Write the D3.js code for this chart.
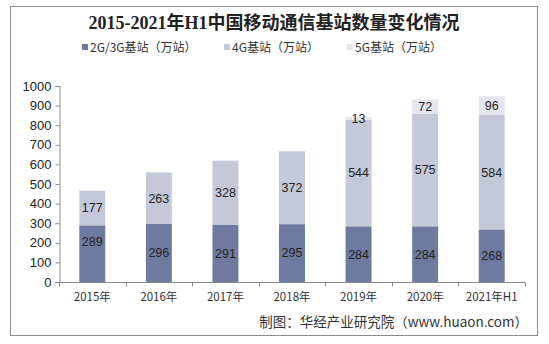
<!DOCTYPE html>
<html>
<head>
<meta charset="utf-8">
<script src="https://cdn.jsdelivr.net/npm/d3@7"></script>
<style>
  html, body { margin: 0; padding: 0; background: #fff; }
  svg { display: block; }
</style>
</head>
<body>
<svg id="chart" width="549" height="344"></svg>
<script>
// Base station counts (10k stations), by year
const categories = ["2015年", "2016年", "2017年", "2018年", "2019年", "2020年", "2021年H1"];
const series2G3G = [289, 296, 291, 295, 284, 284, 268];
const series4G   = [177, 263, 328, 372, 544, 575, 584];
const series5G   = [0, 0, 0, 0, 13, 72, 96];
const seriesNames = ["2G/3G基站（万站）", "4G基站（万站）", "5G基站（万站）"];
const yTicks = [0, 100, 200, 300, 400, 500, 600, 700, 800, 900, 1000];
const titleText = "2015-2021年H1中国移动通信基站数量变化情况";
const sourceText = "制图：华经产业研究院（www.huaon.com）";

const colors = ["#6f7aa1", "#c5c8d9", "#e4e5ee"];
const cjk = "'Noto Sans CJK SC', sans-serif";
const latin = "'Liberation Sans', Arial, 'Noto Sans CJK SC', sans-serif";

const svg = d3.select("#chart");

// outer frame
svg.append("rect")
  .attr("x", 10.5).attr("y", 6.5)
  .attr("width", 527).attr("height", 329)
  .attr("fill", "#fff").attr("stroke", "#8c8c8c").attr("stroke-width", 1);

// title
svg.append("text")
  .attr("x", 274).attr("y", 29)
  .attr("text-anchor", "middle")
  .attr("font-family", "'Liberation Serif', 'Noto Sans CJK SC', serif")
  .attr("font-weight", "bold")
  .attr("font-size", 18)
  .attr("fill", "#222")
  .text(titleText);

// legend
const legendX = [82, 224, 347];
seriesNames.forEach((name, i) => {
  const g = svg.append("g").attr("transform", `translate(${legendX[i]},48)`);
  g.append("rect").attr("x", 0).attr("y", -4).attr("width", 6).attr("height", 6).attr("fill", colors[i]);
  g.append("text").attr("x", 8).attr("y", 0).attr("dy", "0.35em")
    .attr("font-family", cjk).attr("font-size", 12).attr("fill", "#333")
    .text(name);
});

// plot area
const plot = { left: 59, right: 525, top: 86, bottom: 282 };
const x = d3.scaleBand().domain(categories).range([plot.left, plot.right]).paddingInner(0.61).paddingOuter(0.305);
const xOuter = d3.scaleBand().domain(categories).range([plot.left, plot.right]);
const y = d3.scaleLinear().domain([0, 1000]).range([plot.bottom, plot.top]);

// stacked layout
const rows = categories.map((c, i) => ({ cat: c, s0: series2G3G[i], s1: series4G[i], s2: series5G[i] }));
const stack = d3.stack().keys(["s0", "s1", "s2"]);
const layers = stack(rows);

// label nudges (pixels) for readability
const nudge = { "s0|2015年": -12 };

layers.forEach((layer, li) => {
  const g = svg.append("g");
  const visible = layer.filter(d => d[1] - d[0] > 0);
  g.selectAll("rect").data(visible).enter().append("rect")
    .attr("x", d => x(d.data.cat))
    .attr("width", x.bandwidth())
    .attr("y", d => y(d[1]))
    .attr("height", d => y(d[0]) - y(d[1]))
    .attr("fill", colors[li]);
  g.selectAll("text").data(visible).enter().append("text")
    .attr("x", d => x(d.data.cat) + x.bandwidth() / 2)
    .attr("y", d => y((d[0] + d[1]) / 2) + (nudge[layer.key + "|" + d.data.cat] || 0))
    .attr("dy", "0.35em")
    .attr("text-anchor", "middle")
    .attr("font-family", latin).attr("font-size", 12.5).attr("fill", "#222")
    .text(d => d[1] - d[0]);
});

// y axis
const yAxis = d3.axisLeft(y).tickValues(yTicks).tickFormat(d3.format("d")).tickSize(4).tickPadding(4);
const yg = svg.append("g").attr("transform", `translate(${plot.left + 0.5},0)`).call(yAxis);
yg.select(".domain").attr("stroke", "#888");
yg.selectAll(".tick line").attr("stroke", "#888");
yg.selectAll(".tick text").attr("font-family", latin).attr("font-size", 13).attr("fill", "#222");

// x axis with ticks between categories
const xg = svg.append("g").attr("transform", `translate(0,${plot.bottom + 0.5})`);
xg.append("line").attr("x1", plot.left).attr("x2", plot.right).attr("stroke", "#888");
xg.selectAll("line.tk").data(d3.range(categories.length + 1)).enter().append("line")
  .attr("class", "tk")
  .attr("x1", i => Math.round(plot.left + i * xOuter.step()) + 0.5)
  .attr("x2", i => Math.round(plot.left + i * xOuter.step()) + 0.5)
  .attr("y1", 0).attr("y2", 4).attr("stroke", "#888");
xg.selectAll("text").data(categories).enter().append("text")
  .attr("x", d => xOuter(d) + xOuter.bandwidth() / 2)
  .attr("y", 18)
  .attr("text-anchor", "middle")
  .attr("font-family", cjk).attr("font-size", 11.5).attr("fill", "#333")
  .text(d => d);

// source note
svg.append("text")
  .attr("x", 528).attr("y", 327)
  .attr("text-anchor", "end")
  .attr("font-family", "'Noto Sans CJK SC', 'Liberation Sans', sans-serif")
  .attr("font-size", 13.5).attr("fill", "#333")
  .text(sourceText);
</script>
</body>
</html>
